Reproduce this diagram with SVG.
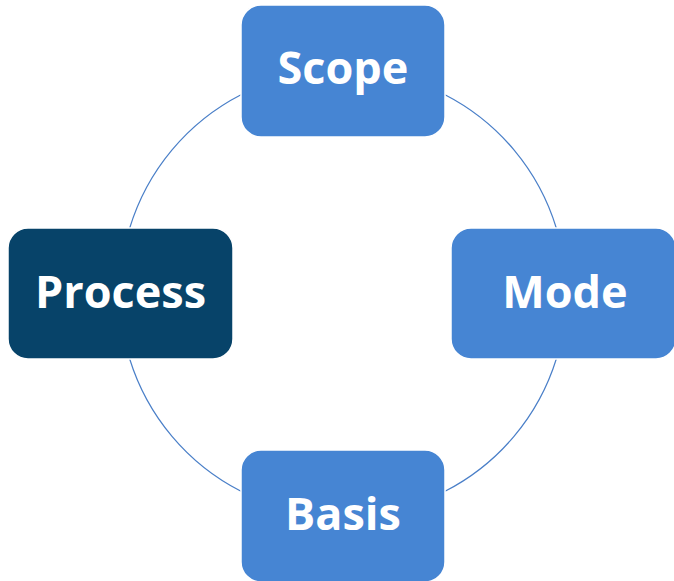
<svg xmlns="http://www.w3.org/2000/svg" width="674" height="581" viewBox="0 0 674 581">
<style>
.arc{fill:none;stroke:#4a7fc8;stroke-width:1.2}
.box{stroke:#ffffff;stroke-width:1.5}
.light{fill:#4685d3}
.dark{fill:#074369}
.lbl{font-family:"Open Sans","Liberation Sans",sans-serif;font-weight:bold;font-size:45px;fill:#ffffff;text-anchor:middle}
</style>
<rect width="674" height="581" fill="#ffffff"/>
<g id="connectors">
<path class="arc" d="M129.7,228 A223,223 0 0 1 241,94.7"/>
<path class="arc" d="M445,94.7 A223,223 0 0 1 556.3,228"/>
<path class="arc" d="M556.3,359 A223,223 0 0 1 445,491.3"/>
<path class="arc" d="M241,491.3 A223,223 0 0 1 129.7,359"/>
</g>
<g id="scope">
<rect class="box light" x="241" y="5" width="204" height="132" rx="20"/>
<text class="lbl" x="343" y="84">Scope</text>
</g>
<g id="mode">
<rect class="box light" x="451" y="228" width="225" height="131" rx="20"/>
<text class="lbl" x="565" y="308">Mode</text>
</g>
<g id="basis">
<rect class="box light" x="241" y="450" width="204" height="132" rx="20"/>
<text class="lbl" x="343" y="530">Basis</text>
</g>
<g id="process">
<rect class="box dark" x="8" y="228" width="225" height="131" rx="20"/>
<text class="lbl" x="120.5" y="308">Process</text>
</g>
</svg>
